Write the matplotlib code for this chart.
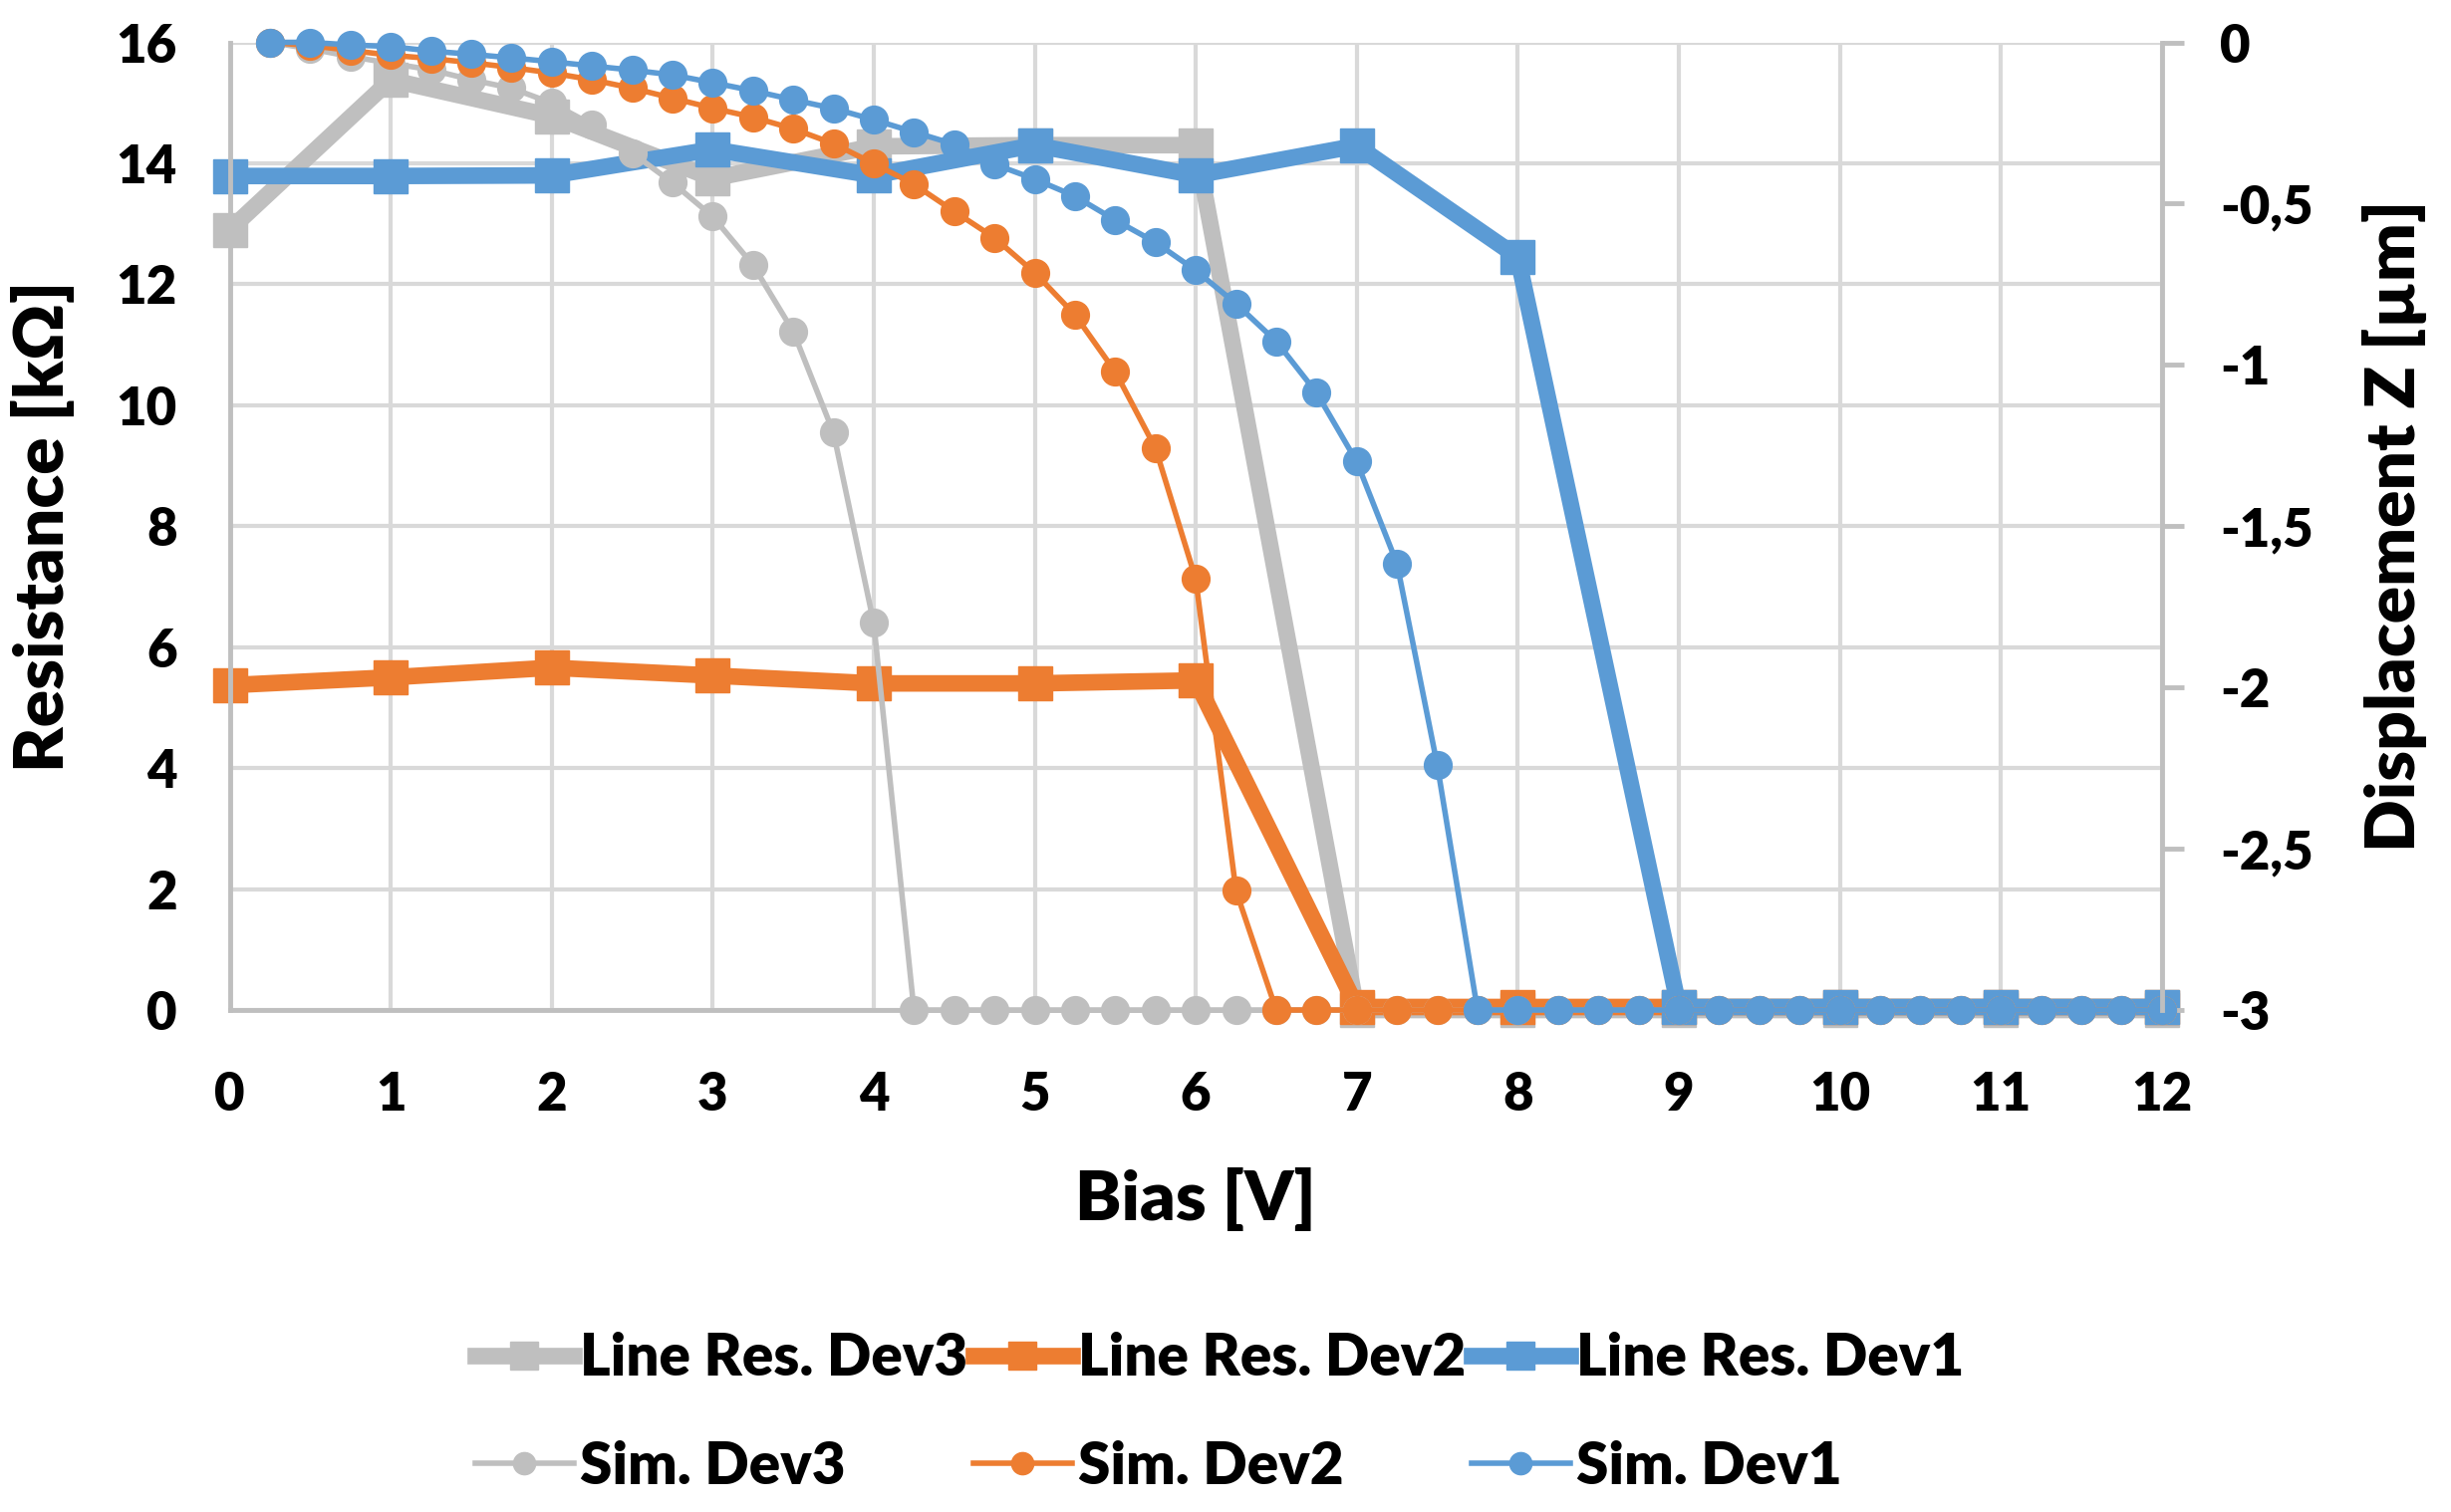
import numpy as np
import matplotlib
matplotlib.use("Agg")
import matplotlib.pyplot as plt
from matplotlib.ticker import FuncFormatter

# -------------------------------
# Line resistance vs bias, with simulated Z displacement
# -------------------------------

GRAY = "#BFBFBF"
ORANGE = "#ED7D31"
BLUE = "#5B9BD5"

# measured line resistance [kOhm] at integer bias steps
bias = list(range(0, 13))
res_dev3 = [12.9, 15.38, 14.78, 13.75, 14.28, 14.3, 14.3, 0.0, 0.0, 0.0, 0.0, 0.0, 0.0]
res_dev2 = [5.37, 5.5, 5.66, 5.53, 5.4, 5.4, 5.45, 0.05, 0.05, 0.05, 0.05, 0.05, 0.05]
res_dev1 = [13.79, 13.79, 13.8, 14.23, 13.8, 14.3, 13.8, 14.29, 12.45, 0.05, 0.05, 0.05, 0.05]

# simulated displacement [um], sampled every 0.25 V from 0.25 V to 12 V
sim_bias = np.arange(1, 49) * 0.25
sim_dev3 = [0.0, -0.02, -0.044, -0.065, -0.085, -0.116, -0.142, -0.188, -0.255, -0.343,
            -0.435, -0.54, -0.69, -0.896, -1.21, -1.80, -3.0,
            -3, -3, -3, -3, -3, -3, -3, -3, -3, -3, -3, -3, -3, -3, -3, -3,
            -3, -3, -3, -3, -3, -3, -3, -3, -3, -3, -3, -3, -3, -3, -3]
sim_dev2 = [0.0, -0.01, -0.025, -0.04, -0.05, -0.063, -0.078, -0.095, -0.116, -0.142,
            -0.173, -0.204, -0.232, -0.268, -0.314, -0.376, -0.44, -0.524, -0.606, -0.714,
            -0.845, -1.021, -1.258, -1.664, -2.63, -3.0,
            -3, -3, -3, -3, -3, -3, -3, -3, -3, -3, -3,
            -3, -3, -3, -3, -3, -3, -3, -3, -3, -3, -3]
sim_dev1 = [0.0, 0.0, -0.008, -0.013, -0.027, -0.037, -0.048, -0.06, -0.073, -0.086,
            -0.101, -0.125, -0.15, -0.178, -0.205, -0.24, -0.278, -0.316, -0.378, -0.424,
            -0.477, -0.551, -0.62, -0.707, -0.81, -0.927, -1.086, -1.30, -1.616, -2.24, -3.0,
            -3, -3, -3, -3, -3, -3, -3, -3, -3, -3, -3, -3, -3, -3, -3, -3, -3]

plt.rcParams["font.family"] = ["Lato", "DejaVu Sans"]
plt.rcParams["font.weight"] = "heavy"
plt.rcParams["axes.labelweight"] = "heavy"
plt.rcParams["axes.unicode_minus"] = False

fig = plt.figure(figsize=(24.6, 15.18), dpi=100)
ax = fig.add_axes([0.0937, 0.332, 0.7883, 0.640])
ax2 = ax.twinx()

thick = dict(linewidth=12, marker="s", markersize=25, clip_on=False, solid_joinstyle="miter")
thin = dict(linewidth=4, marker="o", markersize=20, clip_on=False)

l3, = ax.plot(bias, res_dev3, color=GRAY, label="Line Res. Dev3", **thick)
l2, = ax.plot(bias, res_dev2, color=ORANGE, label="Line Res. Dev2", **thick)
l1, = ax.plot(bias, res_dev1, color=BLUE, label="Line Res. Dev1", **thick)

s3, = ax2.plot(sim_bias, sim_dev3, color=GRAY, label="Sim. Dev3", **thin)
s2, = ax2.plot(sim_bias, sim_dev2, color=ORANGE, label="Sim. Dev2", **thin)
s1, = ax2.plot(sim_bias, sim_dev1, color=BLUE, label="Sim. Dev1", **thin)

ax.set_xlim(0, 12)
ax.set_ylim(0, 16)
ax2.set_ylim(-3, 0)
ax.set_xticks(range(0, 13))
ax.set_yticks(range(0, 17, 2))
ax2.set_yticks([0, -0.5, -1, -1.5, -2, -2.5, -3])
ax2.yaxis.set_major_formatter(FuncFormatter(lambda v, p: f"{v:g}".replace(".", ",")))

ax.grid(True, color="#D9D9D9", linewidth=3)
ax.set_axisbelow(True)

for a in (ax, ax2):
    for side in ("top", "right", "left", "bottom"):
        a.spines[side].set_visible(False)
ax.spines["left"].set_visible(True)
ax.spines["bottom"].set_visible(True)
ax2.spines["right"].set_visible(True)
for sp in (ax.spines["left"], ax.spines["bottom"], ax2.spines["right"]):
    sp.set_color(GRAY)
    sp.set_linewidth(3.5)

ax.tick_params(axis="both", length=0, labelsize=38)
ax.tick_params(axis="y", pad=38)
ax.tick_params(axis="x", pad=44)
ax2.tick_params(axis="y", length=16, width=3.5, color=GRAY, labelsize=38, pad=26)

ax.set_xlabel("Bias [V]", fontsize=50, fontweight="heavy")
ax.xaxis.label.set_va("center")
ax.xaxis.set_label_coords(0.5, -0.197)
ax.set_ylabel("Resistance [kΩ]", fontsize=50, fontweight="heavy")
ax.yaxis.label.set_va("center")
ax.yaxis.set_label_coords(-0.096, 0.5)
ax2.set_ylabel("Displacement Z [µm]", fontsize=50, fontweight="heavy")
ax2.yaxis.label.set_va("center")
ax2.yaxis.set_label_coords(1.1206, 0.5)

handles = [l3, s3, l2, s2, l1, s1]
fig.legend(handles, [h.get_label() for h in handles], ncol=3,
           loc="center", bbox_to_anchor=(0.4975, 0.066), frameon=False,
           fontsize=42, handlelength=1.7, handletextpad=0.1, columnspacing=0.1,
           labelspacing=0.95, markerscale=0.8)

fig.savefig("out.png", dpi=100)
